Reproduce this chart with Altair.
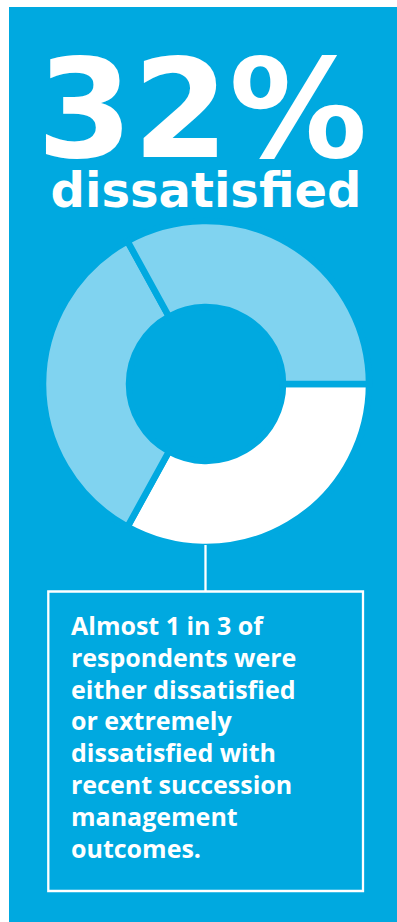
import math
import altair as alt
import pandas as pd

# ---- data ----
segments = ["Dissatisfied", "Group B", "Group C"]
shares = [33, 34, 33]
headline = "32%"
subhead = "dissatisfied"
body_lines = [
    "Almost 1 in 3 of",
    "respondents were",
    "either dissatisfied",
    "or extremely",
    "dissatisfied with",
    "recent succession",
    "management",
    "outcomes.",
]

BG = "#00A9E0"
LIGHT = "#80D3F0"
WHITE = "#FFFFFF"
W, H = 397, 922
CX, CY = 206, 384

df = pd.DataFrame({"segment": segments, "value": shares, "idx": list(range(len(segments)))})
one = alt.Data(values=[{"k": 1}])

panel = alt.Chart(one).mark_rect(color=BG).encode(
    x=alt.value(9), x2=alt.value(W), y=alt.value(7), y2=alt.value(H)
)

donut = alt.Chart(df).mark_arc(
    innerRadius=77, outerRadius=163, stroke=BG, strokeWidth=6.5
).encode(
    theta=alt.Theta("value:Q", stack=True,
                    scale=alt.Scale(range=[math.pi / 2, math.pi / 2 + 2 * math.pi])),
    color=alt.Color("segment:N", scale=alt.Scale(domain=segments, range=[WHITE, LIGHT, LIGHT]),
                    legend=None),
    order=alt.Order("idx:Q"),
    x=alt.value(CX), y=alt.value(CY),
)

connector = alt.Chart(one).mark_rule(color=WHITE, strokeWidth=2.3).encode(
    x=alt.value(205.5), y=alt.value(545), y2=alt.value(591)
)

box = alt.Chart(one).mark_rect(fill=None, fillOpacity=0, stroke=WHITE, strokeWidth=2.3).encode(
    x=alt.value(48.3), x2=alt.value(363), y=alt.value(591.5), y2=alt.value(891)
)

big = alt.Chart(one).mark_text(
    text=headline, font="DejaVu Sans", fontWeight="bold", fontSize=138, color=WHITE,
    align="center", baseline="alphabetic"
).encode(x=alt.value(202), y=alt.value(157))

sub = alt.Chart(one).mark_text(
    text=subhead, font="DejaVu Sans", fontWeight="bold", fontSize=48, color=WHITE,
    align="center", baseline="alphabetic"
).encode(x=alt.value(206), y=alt.value(207))

body = alt.Chart(one).mark_text(
    text=body_lines, font="Open Sans", fontWeight="bold", fontSize=25, color=WHITE,
    align="left", baseline="alphabetic", lineHeight=31.8
).encode(x=alt.value(71), y=alt.value(635))

chart = alt.layer(panel, donut, connector, box, big, sub, body).properties(
    width=W, height=H, padding=0, autosize="none", background="white"
).configure_view(stroke=None)

chart.save("out.html", embed_options={"renderer": "svg", "actions": False})
